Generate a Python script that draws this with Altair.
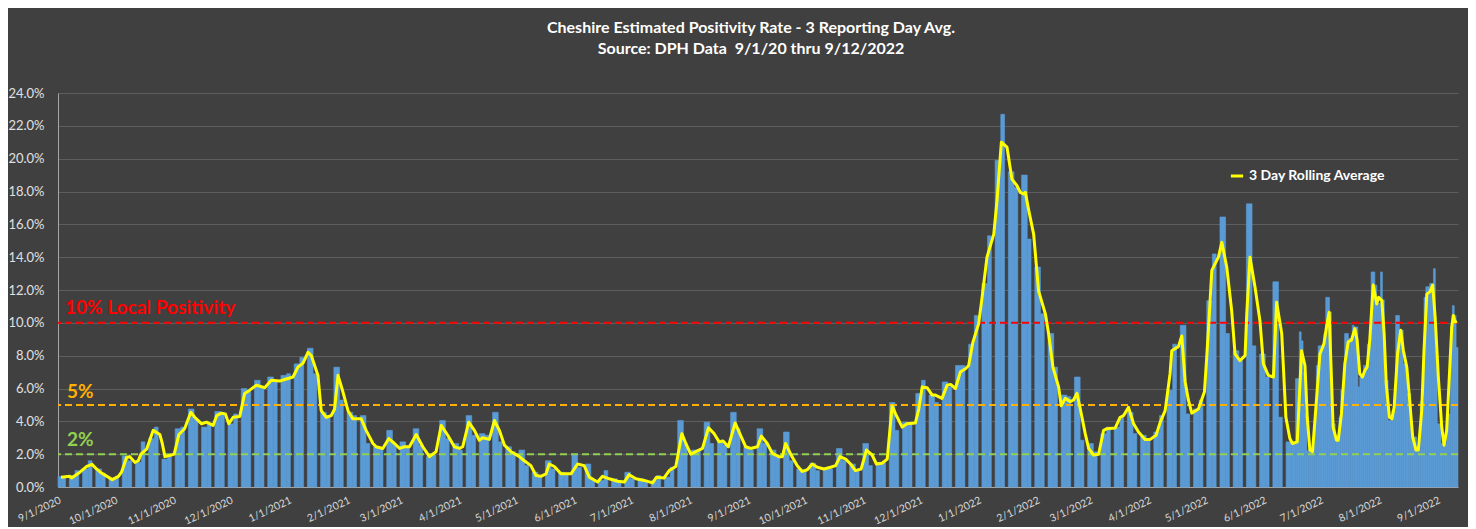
import altair as alt
import pandas as pd

# ---------------- data ----------------
BASE = pd.Timestamp("2020-09-01")

# weekly bar heights (%): Mon-Wed and Thu-Fri of each week, weeks starting Mon 8/31/2020
bar_mw = [0.65, 0.7, 1.1, 1.1, 0.5, 1.9, 1.5, 2.95, 1.7, 3.55,
          4.75, 3.65, 4.6, 3.85, 6.0, 6.5, 6.7, 6.8, 7.5, 8.45,
          4.55, 7.3, 4.55, 4.35, 2.45, 3.45, 2.75, 3.55, 1.85, 4.05,
          2.65, 4.35, 3.25, 4.55, 2.45, 2.25, 0.9, 1.6, 0.9, 2.0,
          1.4, 0.4, 0.5, 0.9, 0.5, 0.4, 0.6, 4.05, 2.25, 3.95,
          2.85, 4.55, 2.45, 3.55, 2.25, 3.35, 1.1, 1.45, 1.1, 2.35,
          1.4, 2.65, 1.5, 5.15, 3.95, 5.7, 5.6, 6.4, 7.4, 8.7,
          12.4, 19.9, 19.2, 19.0, 13.4, 9.35, 5.6, 6.7, 2.65, 3.25,
          3.65, 4.55, 3.15, 3.35, 5.9, 9.85, 4.75, 11.35, 16.45, 8.3,
          17.25, 8.1, 12.5, 2.75]
bar_tf = [0.65, 1.0, 1.6, 0.85, 0.6, 1.6, 2.75, 3.65, 1.9, 3.65,
          4.15, 3.85, 4.45, 4.45, 5.8, 6.1, 6.4, 6.9, 7.9, 6.9,
          4.35, 5.3, 4.35, 2.65, 2.35, 2.65, 2.45, 2.55, 1.95, 2.95,
          2.25, 3.15, 3.15, 2.75, 2.15, 1.3, 0.7, 1.1, 0.8, 1.2,
          0.4, 1.0, 0.4, 0.5, 0.4, 0.7, 1.2, 2.65, 2.25, 2.65,
          2.55, 3.55, 2.25, 2.65, 1.85, 1.6, 1.0, 1.0, 1.1, 1.6,
          1.0, 1.3, 1.5, 3.45, 3.85, 6.5, 5.15, 6.1, 7.4, 10.45,
          15.3, 22.7, 18.25, 15.1, 10.55, 7.3, 5.5, 2.85, 2.15, 3.65,
          4.25, 3.25, 2.95, 4.35, 8.7, 4.45, 5.3, 14.2, 9.35, 7.7,
          8.6, 6.7, 4.25, 2.75]
# daily bar heights (%) from 6/18/2022 (day 655) on, when every day is reported
DAILY_START = 655
bar_daily = [6.6, 6.6, 9.45, 8.9, 7.0, 4.5, 2.2, 2.3, 2.35, 2.4,
             4.25, 7.4, 8.6, 8.6, 8.7, 9.35, 11.55, 11.55, 10.65, 3.85,
             3.85, 2.85, 2.85, 4.25, 5.9, 5.9, 9.35, 9.35, 9.05, 9.05,
             9.85, 9.75, 9.75, 6.1, 6.7, 6.7, 7.4, 7.4, 8.7, 8.7,
             13.1, 13.1, 12.3, 11.2, 11.2, 13.1, 11.4, 6.5, 6.5, 4.05,
             4.05, 4.65, 4.65, 10.45, 10.45, 9.55, 9.55, 7.5, 7.5, 5.7,
             5.7, 3.05, 3.05, 3.05, 2.25, 2.25, 5.2, 5.2, 11.55, 12.2,
             12.2, 12.4, 12.4, 13.3, 8.3, 3.85, 3.85, 2.65, 2.65, 2.65,
             4.45, 4.45, 9.75, 11.05, 10.45, 8.5]

# 3 day rolling average: (days after 9/1/2020, %)
line_day = [1.6, 6.3, 7.2, 11.6, 15.2, 18, 20.4, 23, 26.6, 28.7, 32, 33.6, 36.3, 38, 40.7,
            42.5, 43.9, 46.9, 50.4, 53.9, 55.2, 56.6, 60, 61.5, 64, 67, 70.3, 72.4, 76,
            78.6, 82.1, 84, 86.5, 88.6, 90.4, 92.7,
            96.2, 98.8, 101.5, 105, 109.4, 112.9, 117.3, 120, 124.4, 127, 129.7, 132.3,
            134.1, 137.6, 139.3, 142, 144.6, 146.4, 148.2, 150.8, 153.5, 156.1, 160.5,
            163.1, 166.7, 168.4, 171.9, 175.1, 178.1, 180.8, 183.4,
            186, 189.6, 193.1, 196.6, 200.1, 202.8, 206.3, 209.8, 212.5, 214.2, 217.4,
            220.4, 223, 224.8, 228.3, 231, 233.6, 236.3, 239.8, 244.2, 246.8, 250.3,
            253, 255.6, 258.3, 260, 262.7, 266.2, 271.5, 275,
            278.5, 281.2, 285.6, 288.2, 291.8, 296.2, 299.7, 302.3, 305.9, 310.3, 314.7,
            316.8, 320.8, 323.5, 327, 328.2, 330.2, 332.3, 334.9, 338.4, 341.1, 344.3,
            347.3, 349.9, 352, 354.8, 358.4, 361.3, 364, 366.6,
            370.2, 372.3, 375.4, 378.1, 381.6, 383.4, 385.1, 387.8, 391.3, 393.9, 396.6,
            399.2, 401.9, 405.4, 408.9, 411.6, 413.9, 416.9, 419.5, 422.1, 425.1, 427.9,
            430.9, 433.2, 436.2, 438.9, 441.5, 443.3, 446.8, 449.4, 453.8, 455.6, 457.4,
            460, 462.7,
            464.4, 467.9, 470.6, 472.4, 475, 477.6, 480.3, 482, 484.2, 487.3, 489.1,
            491.7, 495.3, 497, 499.3, 502.3, 504.9, 507.6, 509.3, 511.1, 512, 513.8,
            516.4, 519, 522.6, 524.3, 526.6, 529.6, 531, 533.1, 535.8, 537.5, 539.3,
            541.1, 543.7, 545.5, 548.1, 550.8, 553.4,
            555.2, 559.6, 562.2, 564, 566.6, 569.3, 571.9, 575.4, 578.1, 581.2, 583.4,
            586, 588.6, 589.5, 593, 594.8, 596.6, 598.3, 600.1, 603.6, 606.8, 608,
            609.4, 610.7, 614.2, 616, 618.6, 621.2, 623, 625.6, 628.3, 629.2, 630.9,
            633.6, 636.2, 638, 640.6, 643.3, 645, 647.7,
            649.9, 652, 653.4, 655.9, 658.2, 660, 661.2, 662.6, 664, 665.8, 667.9, 670,
            671.4, 672.8, 674, 674.9, 676.7, 677.6, 679.3, 681.1, 682.9, 684.6, 686.4,
            687.6, 689, 690.4, 691.7, 692.9, 694.3, 696.1, 698, 699, 700.7, 701.9, 703,
            704.7, 706, 707.2, 709, 710.7, 712.1, 713.9, 715.6, 717, 718.8, 720, 721.8,
            723, 724.5, 726.2, 727.6, 728.9, 730.6, 732.4, 733.6, 735, 736.4, 737.7,
            738.5, 739.4, 740.4]
line_val = [0.6, 0.65, 0.55, 0.9, 1.25, 1.38, 1.1, 0.85, 0.6, 0.45, 0.65, 0.9, 1.8, 1.85, 1.5,
            1.6, 2.0, 2.3, 3.45, 3.2, 2.65, 1.85, 1.95, 2.0, 3.2, 3.55, 4.55, 4.25, 3.85,
            3.95, 3.75, 4.35, 4.5, 4.45, 3.85, 4.25,
            4.3, 5.7, 5.9, 6.2, 6.05, 6.5, 6.45, 6.55, 6.7, 7.3, 7.55, 8.2,
            8.0, 6.8, 4.65, 4.25, 4.35, 4.75, 6.8, 5.8, 4.65, 4.15, 4.15,
            3.45, 2.65, 2.45, 2.35, 2.95, 2.65, 2.35, 2.45,
            2.45, 3.2, 2.45, 1.85, 2.15, 3.75, 3.15, 2.45, 2.35, 2.45, 3.95,
            3.45, 2.85, 3.0, 2.9, 4.05, 3.45, 2.55, 2.15, 1.85, 1.6, 1.3,
            0.7, 0.65, 0.8, 1.4, 1.25, 0.8, 0.8, 1.4,
            1.3, 0.6, 0.3, 0.65, 0.5, 0.35, 0.3, 0.75, 0.5, 0.4, 0.25,
            0.6, 0.55, 1.0, 1.25, 2.0, 3.25, 2.65, 2.0, 2.2, 2.35, 3.6,
            3.25, 2.75, 2.8, 2.45, 3.9, 3.15, 2.45, 2.35,
            2.45, 3.1, 2.65, 2.05, 1.85, 1.85, 2.65, 2.0, 1.3, 0.95, 1.05,
            1.4, 1.2, 1.1, 1.2, 1.3, 1.85, 1.7, 1.4, 1.0, 1.1, 2.25,
            1.95, 1.4, 1.45, 1.7, 4.95, 4.45, 3.65, 3.85, 3.9, 4.75, 6.1,
            6.05, 5.6,
            5.6, 5.4, 6.2, 6.25, 6.0, 7.0, 7.2, 7.4, 8.8, 9.95, 11.55,
            14.0, 15.4, 17.45, 21.0, 20.7, 18.75, 18.35, 17.95, 17.85, 17.95, 16.85,
            15.4, 11.95, 10.55, 9.35, 7.3, 6.1, 4.95, 5.4, 5.2, 5.3, 5.7,
            4.75, 3.25, 2.35, 1.95, 2.0, 3.45,
            3.55, 3.6, 4.25, 4.35, 4.85, 3.85, 3.35, 2.9, 2.9, 3.15, 3.95,
            4.65, 6.9, 8.3, 8.55, 9.2, 6.4, 5.3, 4.5, 4.75, 5.8, 7.9,
            10.55, 13.2, 14.0, 14.9, 13.4, 10.75, 8.1, 7.7, 8.0, 10.55, 14.0,
            12.15, 10.1, 7.5, 6.8, 6.7, 11.25, 9.35,
            4.25, 2.95, 2.65, 2.75, 8.3, 7.4, 4.25, 2.25, 2.15, 4.85, 8.1, 8.7,
            9.75, 10.65, 6.7, 3.65, 2.85, 2.85, 4.45, 7.5, 8.85, 8.95, 9.65,
            8.95, 6.9, 6.7, 7.1, 7.3, 8.95, 12.3, 11.15, 11.55, 11.35, 9.35, 6.3,
            4.25, 4.15, 4.85, 8.1, 9.55, 8.3, 7.3, 5.05, 3.05, 2.25, 2.25, 4.65,
            8.3, 11.75, 11.9, 12.3, 10.35, 6.7, 3.65, 2.55, 3.45, 6.7, 9.75,
            10.45, 10.05, 10.1]

thr_val = [10, 5, 2]
thr_label = ["10% Local Positivity", "5%", "2%"]
thr_color = ["#FF0000", "#FFB000", "#92D050"]
thr_dy = [-9, -7, -8]
thr_x = [7, 9, 9]

y_ticks = [0, 2, 4, 6, 8, 10, 12, 14, 16, 18, 20, 22, 24]

SERIES = "3 Day Rolling Average"
TITLE = ["Cheshire Estimated Positivity Rate - 3 Reporting Day Avg.",
         "Source: DPH Data\u00a0 9/1/20 thru 9/12/2022"]

FONT = "Lato"
BG = "#404040"
BAR = "#5B9BD5"


def iso(d):
    return (BASE + pd.Timedelta(days=float(d))).strftime("%Y-%m-%dT%H:%M:%SZ")


# ---------------- tables ----------------
rows = []
for w, (a, b) in enumerate(zip(bar_mw, bar_tf)):
    mon = 7 * w - 1
    rows.append((max(mon, 0), mon + 3, a))
    rows.append((mon + 3, mon + 5, b))
for i, v in enumerate(bar_daily):
    d = DAILY_START + i
    rows.append((d, d + 1, v))
bars = pd.DataFrame({
    "start": [iso(r[0]) for r in rows],
    "end": [iso(r[1]) for r in rows],
    "val": [r[2] for r in rows],
})

line = pd.DataFrame({
    "date": [iso(d) for d in line_day],
    "val": line_val,
    "series": [SERIES] * len(line_val),
})

month_ticks = []
y, m = 2020, 9
while (y, m) <= (2022, 9):
    month_ticks.append(alt.DateTime(year=y, month=m, date=1, utc=True))
    m += 1
    if m > 12:
        m, y = 1, y + 1

x_scale = alt.Scale(type="utc",
                    domain=[alt.DateTime(year=2020, month=9, date=1, utc=True),
                            alt.DateTime(year=2022, month=9, date=12, utc=True)])
y_scale = alt.Scale(domain=[0, 24], nice=False)

x_axis = alt.Axis(values=month_ticks, format="%-m/%-d/%Y", labelAngle=-25,
                  labelAlign="right", labelBaseline="top", labelPadding=8,
                  labelColor="#d9d9d9", labelFont=FONT, labelFontSize=10.5,
                  labelOverlap=False, labelFlush=False, labelBound=False,
                  grid=False, ticks=False, domainColor="#a6a6a6", title=None)
y_axis = alt.Axis(values=y_ticks,
                  labelExpr="format(datum.value, '.1f') + '%'",
                  labelColor="#e0e0e0", labelFont=FONT, labelFontSize=13,
                  labelOverlap=False, labelFlush=False, labelBound=False,
                  labelPadding=14, grid=True, gridColor="#5e5e5e", gridWidth=1,
                  ticks=False, domainColor="#a6a6a6", title=None)


def Y(field):
    return alt.Y(field, type="quantitative", scale=y_scale, axis=y_axis)


def X(field):
    return alt.X(field, type="temporal", scale=x_scale, axis=x_axis)


bar_layer = alt.Chart(bars).mark_rect(color=BAR, stroke=BAR, strokeWidth=0.6).encode(
    x=X("start"),
    x2="end:T",
    y=Y("val"),
    y2=alt.datum(0),
)

layers = [bar_layer]
for v, lab, c in zip(thr_val, thr_label, thr_color):
    df = pd.DataFrame({"v": [v], "lab": [lab]})
    layers.append(alt.Chart(df).mark_rule(color=c, strokeWidth=2, strokeDash=[7, 4]).encode(
        y=Y("v")))

line_layer = alt.Chart(line).mark_line(strokeWidth=3, strokeJoin="round").encode(
    x=X("date"),
    y=Y("val"),
    color=alt.Color("series:N", scale=alt.Scale(domain=[SERIES], range=["#FFFF00"]),
                    legend=alt.Legend(orient="none", legendX=1171, legendY=75, title=None,
                                      symbolType="stroke", symbolStrokeWidth=3,
                                      symbolSize=150, labelColor="white", labelFont=FONT,
                                      labelFontSize=14, labelFontWeight="bold",
                                      labelOffset=4, padding=0)),
)
layers.append(line_layer)

for v, lab, c, dy, xo in zip(thr_val, thr_label, thr_color, thr_dy, thr_x):
    df = pd.DataFrame({"v": [v], "lab": [lab]})
    layers.append(alt.Chart(df).mark_text(align="left", baseline="alphabetic", dy=dy,
                                          fontSize=19, fontWeight="bold", font=FONT,
                                          color=c).encode(
        x=alt.value(xo), y=Y("v"), text="lab:N"))

chart = alt.layer(*layers).properties(
    width=1400, height=394,
    autosize=alt.AutoSizeParams(type="none"),
    padding={"left": 50, "top": 85, "right": 10, "bottom": 40},
    title=alt.Title(TITLE, color="white", font=FONT, fontSize=16, fontWeight="bold",
                    lineHeight=21, anchor="middle", offset=30, dx=-7),
).configure(background=BG).configure_view(strokeWidth=0)

chart.save("out.html", embed_options={"renderer": "svg", "actions": False})
